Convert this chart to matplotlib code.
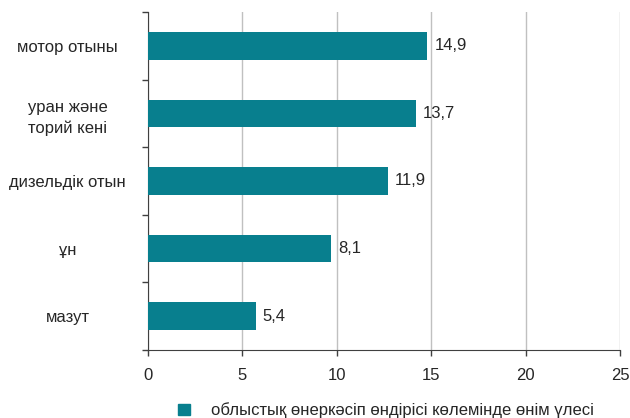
import matplotlib.pyplot as plt
from matplotlib.patches import Patch

plt.rcParams["font.family"] = ["Liberation Sans", "DejaVu Sans"]

# категориялар (жоғарыдан төмен)
categories = ["мотор отыны", "уран және\nторий кені", "дизельдік отын", "ұн", "мазут"]
# бағандардың суреттегі ұзындығы
bar_lengths = [14.8, 14.2, 12.7, 9.7, 5.7]
# бағандардағы жазулар
value_labels = ["14,9", "13,7", "11,9", "8,1", "5,4"]
legend_label = "облыстық өнеркәсіп өндірісі көлемінде өнім үлесі"

bar_color = "#087F8E"
text_color = "#262626"
fs = 12

fig = plt.figure(figsize=(6.3, 4.18), dpi=100)
ax = fig.add_axes([0.2349, 0.1627, 0.7492, 0.8086])

ypos = list(range(len(categories)))
bars = ax.barh(ypos, bar_lengths, height=0.41, color=bar_color, zorder=3)

for y, w, lab in zip(ypos, bar_lengths, value_labels):
    ax.annotate(lab, (w, y), xytext=(5, 0), textcoords="offset points",
                va="center", ha="left", fontsize=fs, color=text_color)

ax.set_xlim(0, 25)
ax.set_ylim(len(categories) - 0.5, -0.5)
ax.set_xticks([0, 5, 10, 15, 20, 25])
ax.tick_params(axis="x", labelsize=fs, labelcolor=text_color, length=4,
               width=1, color="#404040", pad=9)

# y: негізгі шкала шекараларда, жазулар кіші шкалада
ax.set_yticks([i - 0.5 for i in range(len(categories) + 1)])
ax.set_yticklabels([])
ax.set_yticks(ypos, minor=True)
ticklabs = ax.set_yticklabels(categories, minor=True, ha="center", fontsize=fs,
                              color=text_color)
for t in ticklabs:
    t.set_linespacing(1.45)
ax.tick_params(axis="y", which="major", length=4, width=1, color="#404040",
               direction="out")
ax.tick_params(axis="y", which="minor", length=0, pad=58)

ax.grid(axis="x", color="#c0c0c0", linewidth=1, zorder=0)
for s in ["top", "right"]:
    ax.spines[s].set_visible(False)
ax.spines["left"].set_color("#404040")
ax.spines["bottom"].set_color("#404040")

fig.legend(handles=[Patch(color=bar_color, label=legend_label)],
           loc="center left", bbox_to_anchor=(0.2825, 0.018),
           frameon=False, fontsize=fs, handlelength=0.7, handleheight=0.7,
           handletextpad=1.3, borderpad=0, borderaxespad=0,
           labelcolor=text_color)

fig.savefig("out.png", dpi=100)
